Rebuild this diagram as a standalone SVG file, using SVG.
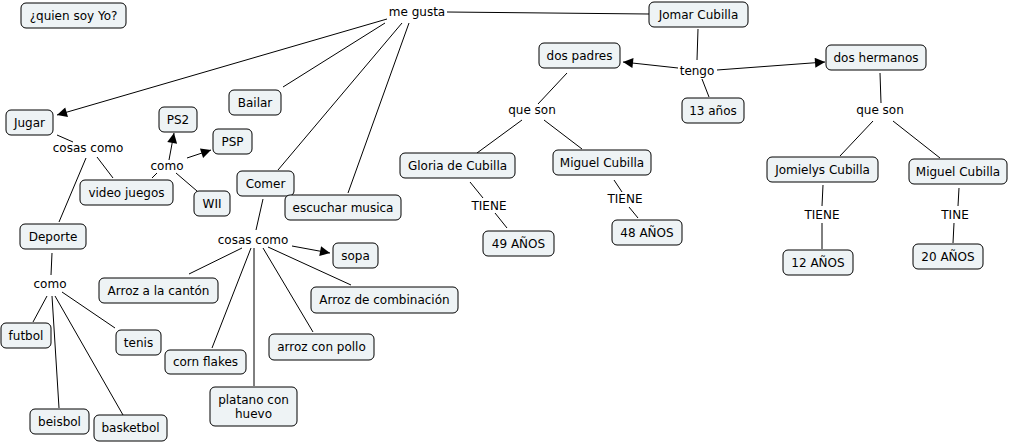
<svg xmlns="http://www.w3.org/2000/svg" width="1010" height="443" viewBox="0 0 1010 443">
<defs>
<marker id="arr" viewBox="0 0 10 10" refX="10" refY="5" markerWidth="12" markerHeight="10" markerUnits="userSpaceOnUse" orient="auto">
<path d="M0,0 L10,5 L0,10 z" fill="#000"/>
</marker>
<style>
.n rect{fill:#eef3f5;stroke:#000;stroke-width:1}
text{font-family:"DejaVu Sans",Verdana,sans-serif;font-size:12px;fill:#000;text-anchor:middle}
#connectors line{stroke:#000;stroke-width:1}
#connectors line.a{marker-end:url(#arr)}
</style>
</defs>
<rect width="1010" height="443" fill="#fff"/>
<g id="connectors">
<line x1="447" y1="12" x2="649" y2="14"/>
<line class="a" x1="387" y1="19" x2="57" y2="115"/>
<line x1="385" y1="23" x2="283" y2="87"/>
<line x1="402" y1="23" x2="278" y2="170"/>
<line x1="409" y1="23" x2="348" y2="193"/>
<line x1="57" y1="135" x2="73" y2="142"/>
<line x1="97" y1="157" x2="113" y2="178"/>
<line x1="86" y1="158" x2="59" y2="222"/>
<line x1="152" y1="178" x2="157" y2="173"/>
<line class="a" x1="169" y1="160" x2="174" y2="133"/>
<line class="a" x1="187" y1="158" x2="211" y2="150"/>
<line x1="176" y1="173" x2="197" y2="191"/>
<line x1="263" y1="199" x2="256" y2="230"/>
<line x1="52" y1="253" x2="51" y2="275"/>
<line x1="47" y1="296" x2="33" y2="322"/>
<line x1="52" y1="296" x2="59" y2="408"/>
<line x1="55" y1="296" x2="123" y2="415"/>
<line x1="62" y1="292" x2="115" y2="328"/>
<line class="a" x1="292" y1="246" x2="330" y2="253"/>
<line x1="242" y1="248" x2="189" y2="274"/>
<line x1="251" y1="248" x2="212" y2="348"/>
<line x1="254" y1="248" x2="254" y2="386"/>
<line x1="263" y1="248" x2="313" y2="332"/>
<line x1="268" y1="247" x2="351" y2="285"/>
<line x1="698" y1="29" x2="697" y2="60"/>
<line class="a" x1="678" y1="68" x2="623" y2="62"/>
<line class="a" x1="717" y1="70" x2="825" y2="62"/>
<line x1="702" y1="79" x2="709" y2="97"/>
<line x1="567" y1="73" x2="538" y2="104"/>
<line x1="522" y1="120" x2="477" y2="153"/>
<line x1="544" y1="120" x2="582" y2="149"/>
<line x1="470" y1="182" x2="483" y2="198"/>
<line x1="495" y1="213" x2="507" y2="228"/>
<line x1="614" y1="180" x2="622" y2="192"/>
<line x1="629" y1="207" x2="638" y2="218"/>
<line x1="880" y1="73" x2="881" y2="103"/>
<line x1="873" y1="121" x2="840" y2="156"/>
<line x1="893" y1="121" x2="940" y2="158"/>
<line x1="823" y1="185" x2="822" y2="206"/>
<line x1="822" y1="223" x2="822" y2="249"/>
<line x1="959" y1="188" x2="958" y2="206"/>
<line x1="954" y1="223" x2="953" y2="243"/>
</g>
<g id="labels">
<text x="417" y="16">me gusta</text>
<text x="697" y="75">tengo</text>
<text x="532" y="114">que son</text>
<text x="880" y="114">que son</text>
<text x="489" y="210">TIENE</text>
<text x="625" y="203">TIENE</text>
<text x="822" y="219">TIENE</text>
<text x="955" y="219">TINE</text>
<text x="88" y="152">cosas como</text>
<text x="167" y="170">como</text>
<text x="50" y="288">como</text>
<text x="253" y="244">cosas como</text>
</g>
<g id="n-quien" class="n"><rect x="21" y="3" width="105" height="25" rx="5"/><text x="73.5" y="20">¿quien soy Yo?</text></g>
<g id="n-jomar" class="n"><rect x="649" y="2" width="99" height="25" rx="5"/><text x="698.5" y="19">Jomar Cubilla</text></g>
<g id="n-padres" class="n"><rect x="539" y="43" width="81" height="25" rx="5"/><text x="579.5" y="60">dos padres</text></g>
<g id="n-hermanos" class="n"><rect x="826" y="45" width="100" height="25" rx="5"/><text x="876" y="62">dos hermanos</text></g>
<g id="n-13" class="n"><rect x="682" y="98" width="62" height="25" rx="5"/><text x="713" y="115">13 años</text></g>
<g id="n-gloria" class="n"><rect x="400" y="153" width="115" height="25" rx="5"/><text x="457.5" y="170">Gloria de Cubilla</text></g>
<g id="n-miguel1" class="n"><rect x="553" y="150" width="98" height="25" rx="5"/><text x="602" y="167">Miguel Cubilla</text></g>
<g id="n-49" class="n"><rect x="483" y="231" width="71" height="25" rx="5"/><text x="518.5" y="248">49 AÑOS</text></g>
<g id="n-48" class="n"><rect x="612" y="220" width="70" height="25" rx="5"/><text x="647" y="237">48 AÑOS</text></g>
<g id="n-jomielys" class="n"><rect x="767" y="157" width="111" height="25" rx="5"/><text x="822.5" y="174">Jomielys Cubilla</text></g>
<g id="n-miguel2" class="n"><rect x="909" y="159" width="98" height="25" rx="5"/><text x="958" y="176">Miguel Cubilla</text></g>
<g id="n-12" class="n"><rect x="783" y="250" width="70" height="25" rx="5"/><text x="818" y="267">12 AÑOS</text></g>
<g id="n-20" class="n"><rect x="913" y="244" width="70" height="25" rx="5"/><text x="948" y="261">20 AÑOS</text></g>
<g id="n-jugar" class="n"><rect x="6" y="110" width="47" height="25" rx="5"/><text x="29.5" y="127">Jugar</text></g>
<g id="n-video" class="n"><rect x="80" y="180" width="93" height="25" rx="5"/><text x="126.5" y="197">video juegos</text></g>
<g id="n-ps2" class="n"><rect x="159" y="107" width="38" height="25" rx="5"/><text x="178" y="124">PS2</text></g>
<g id="n-psp" class="n"><rect x="213" y="129" width="39" height="25" rx="5"/><text x="232.5" y="146">PSP</text></g>
<g id="n-wii" class="n"><rect x="194" y="191" width="36" height="25" rx="5"/><text x="212" y="208">WII</text></g>
<g id="n-bailar" class="n"><rect x="229" y="90" width="52" height="25" rx="5"/><text x="255" y="107">Bailar</text></g>
<g id="n-comer" class="n"><rect x="237" y="171" width="57" height="25" rx="5"/><text x="265.5" y="188">Comer</text></g>
<g id="n-escuchar" class="n"><rect x="285" y="195" width="116" height="25" rx="5"/><text x="343" y="212">escuchar musica</text></g>
<g id="n-deporte" class="n"><rect x="20" y="224" width="66" height="25" rx="5"/><text x="53" y="241">Deporte</text></g>
<g id="n-futbol" class="n"><rect x="1" y="323" width="50" height="25" rx="5"/><text x="26" y="340">futbol</text></g>
<g id="n-tenis" class="n"><rect x="116" y="330" width="45" height="25" rx="5"/><text x="138.5" y="347">tenis</text></g>
<g id="n-beisbol" class="n"><rect x="30" y="409" width="59" height="25" rx="5"/><text x="59.5" y="426">beisbol</text></g>
<g id="n-basketbol" class="n"><rect x="94" y="415" width="73" height="26" rx="5"/><text x="130.5" y="432">basketbol</text></g>
<g id="n-sopa" class="n"><rect x="333" y="243" width="45" height="25" rx="5"/><text x="355.5" y="260">sopa</text></g>
<g id="n-canton" class="n"><rect x="99" y="278" width="119" height="25" rx="5"/><text x="158.5" y="295">Arroz a la cantón</text></g>
<g id="n-combinacion" class="n"><rect x="311" y="287" width="147" height="26" rx="5"/><text x="384.5" y="304">Arroz de combinación</text></g>
<g id="n-corn" class="n"><rect x="165" y="350" width="81" height="24" rx="5"/><text x="205.5" y="366">corn flakes</text></g>
<g id="n-pollo" class="n"><rect x="269" y="334" width="105" height="26" rx="5"/><text x="321.5" y="351">arroz con pollo</text></g>
<g id="n-platano" class="n"><rect x="210" y="387" width="87" height="39" rx="5"/><text x="253.5" y="404">platano con</text><text x="253.5" y="418">huevo</text></g>
</svg>
